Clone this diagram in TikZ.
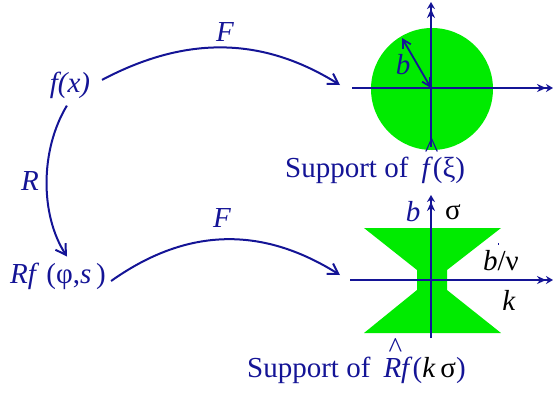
\documentclass[tikz,border=0pt]{standalone}
\usepackage{fontspec}
\setmainfont{Liberation Serif}[ItalicFont={Liberation Serif Italic}]
\usetikzlibrary{arrows.meta}
\usetikzlibrary{positioning}
\definecolor{inkblue}{RGB}{20,20,150}
\definecolor{suppgreen}{RGB}{0,235,0}
\newcommand{\hatover}[2][0.12em]{\rlap{\hspace{#1}\raisebox{0.66em}{\^{}}}#2}

\begin{document}
\begin{tikzpicture}[x=1pt,y=-1pt,
  lbl/.style={font=\fontsize{29}{31}\selectfont,text=inkblue,inner sep=2pt},
  blk/.style={font=\fontsize{29}{31}\selectfont,text=black,inner sep=1pt},
  flow/.style={draw=inkblue,line width=2pt,-{Straight Barb[length=10pt,width=12pt]}},
  axis/.style={draw=inkblue,line width=2.2pt,-{Stealth[length=9pt,width=8pt]Stealth[length=7pt,width=8pt]}},
  radius/.style={draw=inkblue,line width=1.8pt,{Straight Barb[length=8pt,width=9pt]}-{Straight Barb[length=8pt,width=9pt]}}]
\useasboundingbox (0,0) rectangle (557,392);

% left side: f(x) and Rf
\node[lbl] (fx) at (70,85) {\textit{f(x)}};
\node[lbl] (Rf) at (58,276) {\textit{Rf} (φ,\textit{s}\,)};
\node[lbl] (RR) at (30,181) {\textit{R}};
\node[lbl] (F1) at (225,32) {\textit{F}};
\node[lbl] (F2) at (222,218) {\textit{F}};
\coordinate (t1) at (340,85);
\coordinate (t2) at (340,275);

\draw[flow,shorten <=11pt] (fx.east) .. controls (187,35) and (263,37) .. (t1);
\draw[flow,shorten <=6pt] (fx.south) .. controls (40,150) and (40,215) .. ([xshift=9pt,yshift=4pt]Rf.north);
\draw[flow] ([xshift=3pt,yshift=-5pt]Rf.east) .. controls (190,225) and (265,228) .. (t2);

% support of f hat
\fill[suppgreen] (432,89) circle (61);
\coordinate (o1) at (431,88);
\draw[axis] (352,88) -- (553,88);
\draw[axis] (431,147) -- (431,2);
\coordinate (b1) at (402,38);
\draw[radius] (b1) -- (o1);
\node[lbl] (bl1) at (403,65) {\textit{b}};
\node[lbl,anchor=base west] (sup1) at (283,177) {Support of\hspace{0.45em}\hatover{\textit{f}}(ξ)};

% support of Rf hat
\fill[suppgreen] (364,228) -- (501,228) -- (447,270) -- (447,290) -- (501,333)
  -- (364,333) -- (417,290) -- (417,270) -- cycle;
\draw[axis] (350,280) -- (553,280);
\draw[axis] (431,338) -- (431,195);
\node[lbl] (bl2) at (413,212) {\textit{b}};
\node[blk] (sig) at (453,212) {σ};
\node[blk] (slope) at (501,261) {\textit{b}/ν};
\fill[inkblue] (497.5,242.5) rectangle (499,245);
\node[blk] (kk) at (509,300) {\textit{k}};
\node[lbl,anchor=base west] (sup2) at (245,377) {Support of\hspace{0.45em}\hatover[0.18em]{\textit{R}}\textit{f}(\textcolor{black}{\textit{k}\,σ})};

\end{tikzpicture}
\end{document}
